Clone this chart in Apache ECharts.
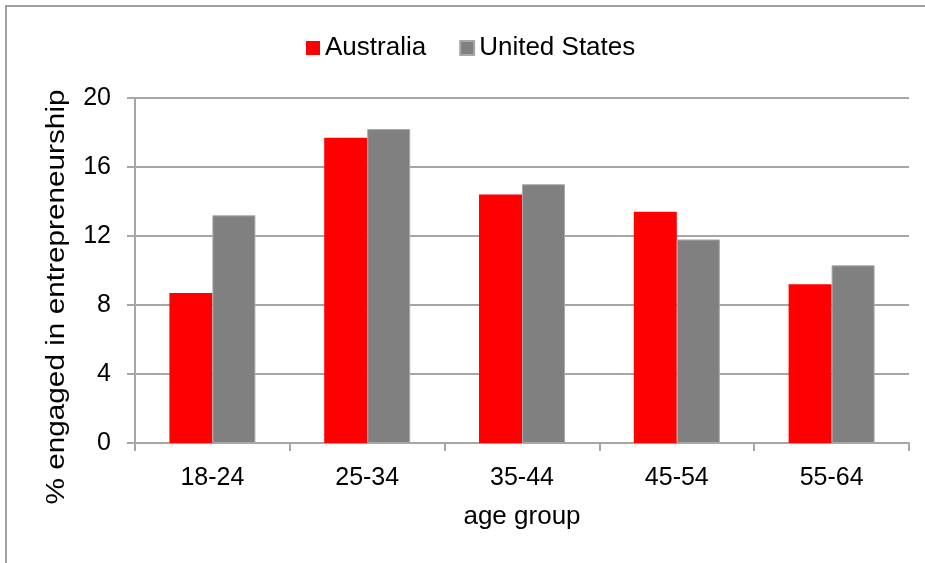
<!DOCTYPE html>
<html>
<head>
<meta charset="utf-8">
<script src="https://cdn.jsdelivr.net/npm/echarts@6/dist/echarts.min.js"></script>
<style>
  html, body { margin: 0; padding: 0; background: #fff; }
  #chart { width: 925px; height: 563px; }
</style>
</head>
<body>
<div id="chart"></div>
<script>
var ageGroups = ["18-24", "25-34", "35-44", "45-54", "55-64"];
var australia = [8.7, 17.7, 14.4, 13.4, 9.2];
var unitedStates = [13.2, 18.2, 15.0, 11.8, 10.3];
var yTicks = { min: 0, max: 20, interval: 4 };

var fontName = "Liberation Sans, Arial, sans-serif";
var lineGrey = "#a6a6a6";

var myChart = echarts.init(document.getElementById("chart"));
var option = {
    animation: false,
    textStyle: { fontFamily: fontName, color: "#000" },
    graphic: [{
        type: "rect",
        shape: { x: 6, y: 6, width: 960, height: 620 },
        style: { fill: "none", stroke: "#a0a0a0", lineWidth: 2 },
        silent: true
    }, {
        // y axis title, drawn a bit wider like the original
        type: "text",
        x: 57,
        y: 297,
        rotation: Math.PI / 2,
        scaleX: 1.19,
        style: {
            text: "% engaged in entrepreneurship",
            fontSize: 25,
            fontFamily: fontName,
            fill: "#000",
            align: "center",
            verticalAlign: "middle"
        },
        silent: true
    }],
    legend: {
        left: 301,
        top: 30,
        itemWidth: 14,
        itemHeight: 14,
        itemGap: 33,
        icon: "rect",
        textStyle: { fontSize: 26, fontFamily: fontName, color: "#000" },
        data: ["Australia", "United States"]
    },
    grid: { left: 135, right: 16, top: 98, bottom: 120 },
    xAxis: {
        type: "category",
        data: ageGroups,
        name: "age group",
        nameLocation: "middle",
        nameGap: 61,
        nameTextStyle: { fontSize: 26, fontFamily: fontName, color: "#000" },
        axisLine: { lineStyle: { color: lineGrey, width: 2 } },
        axisTick: { show: true, length: 8, lineStyle: { color: lineGrey, width: 2 } },
        axisLabel: { fontSize: 25, margin: 23, color: "#000" }
    },
    yAxis: {
        type: "value",
        min: yTicks.min,
        max: yTicks.max,
        interval: yTicks.interval,
        axisLine: { show: true, lineStyle: { color: lineGrey, width: 2 } },
        axisTick: { show: true, length: 8, lineStyle: { color: lineGrey, width: 2 } },
        axisLabel: { fontSize: 25, margin: 24, color: "#000" },
        splitLine: { show: true, lineStyle: { color: lineGrey, width: 2 } }
    },
    series: [
        {
            name: "Australia",
            type: "bar",
            data: australia,
            barWidth: 43,
            barGap: "0%",
            itemStyle: { color: "#ff0000" }
        },
        {
            name: "United States",
            type: "bar",
            data: unitedStates,
            barWidth: 43,
            barGap: "0%",
            itemStyle: { color: "#808080", borderColor: "#a8a8a8", borderWidth: 1 }
        }
    ]
};
myChart.setOption(option);
</script>
</body>
</html>
